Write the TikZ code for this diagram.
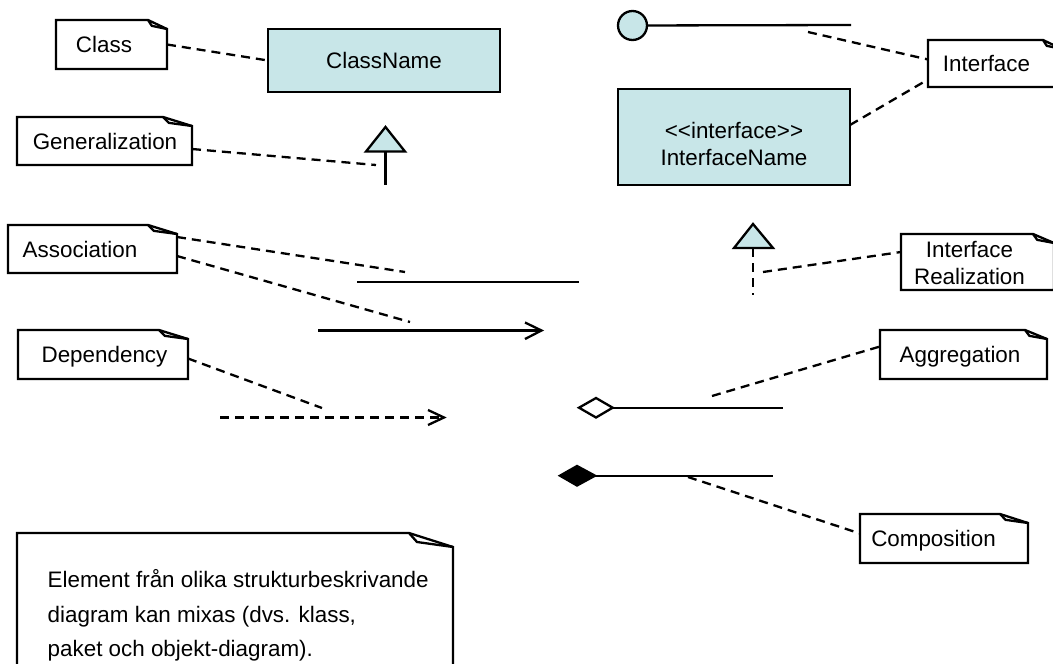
\documentclass[tikz,border=0pt]{standalone}
\usepackage{fontspec}
\setmainfont{Liberation Sans}
\definecolor{umlfill}{RGB}{200,230,232}

\tikzset{
  ln/.style={line width=2.3pt, line join=miter},
  dsh/.style={line width=2.3pt, dash pattern=on 9pt off 6pt},
  notearea/.style={rectangle, inner sep=0pt, outer sep=0pt},
  lbl/.style={inner sep=0pt, font=\fontsize{22.4}{27}\selectfont, align=center},
  lblone/.style={lbl, text height=16pt, text depth=0pt},
  classbox/.style={draw, ln, fill=umlfill, inner sep=0pt, outer sep=0pt},
}

% note with folded corner: name, x1, y1, x2, y2, fold width, fold height, text shift, text
\newcommand\umlnote[9]{%
  \draw[ln, fill=white] (#2,#5) -- (#2,#3) -- ({#4-#6},#3) -- (#4,{#3+#7}) -- (#4,#5) -- cycle;
  \draw[ln] ({#4-#6},#3) -- ({#4-0.8*#6},{#3+0.65*#7}) -- (#4,{#3+#7});
  \node[notearea, minimum width={#4-#2}, minimum height={#5-#3}] (#1) at ({(#2+#4)/2},{(#3+#5)/2}) {};
  \node[lblone] (#1-t) at ([shift={(#8)}]#1.center) {#9};
}

\begin{document}
\begin{tikzpicture}[x=1pt,y=-1pt]
\clip (0,0) rectangle (1053,664);
\fill[white] (0,0) rectangle (1053,664);

% class and interface boxes
\node[classbox, minimum width=232, minimum height=63, font=\fontsize{22.4}{27}\selectfont,
      text height=16pt, text depth=0pt] (cn) at (384,60.5) {ClassName};
\node[classbox, minimum width=232, minimum height=96] (in) at (734,137) {};
\node[lbl] (in-t) at (734,143.5) {<\kern0pt<interface>\kern0pt>\\InterfaceName};

% lollipop interface
\node[circle, draw, ln, fill=umlfill, minimum size=29, inner sep=0pt, outer sep=0pt] (lol) at (632.5,25.5) {};
\coordinate (lolend) at (851,25);
\draw[ln] (lol) -- (lolend);

% generalization
\draw[ln, fill=umlfill] (385.5,127) -- (405,151.5) -- (366,151.5) -- cycle;
\draw[ln] (385.5,151.5) -- (385.5,185);

% interface realization
\draw[ln, fill=umlfill] (753,224) -- (773,248) -- (734,248) -- cycle;
\draw[dsh] (753,248) -- (753,295);

% associations
\draw[ln] (357,282) -- (579,282);
\draw[ln] (318,330.5) -- (541,330.5);
\draw[ln] (525,322.5) -- (541.5,330.5) -- (525,339);

% dependency
\draw[dsh] (220,417.5) -- (443,417.5);
\draw[ln] (428,410) -- (444,417.5) -- (428,425);

% aggregation
\draw[ln, fill=white] (579,407.7) -- (596,398) -- (612.7,407.7) -- (596,417.5) -- cycle;
\draw[ln] (612.7,407.7) -- (782.7,407.7);

% composition
\draw[ln, fill=black] (560,475.7) -- (577,466) -- (595,475.7) -- (577,485.5) -- cycle;
\draw[ln] (595,475.7) -- (773,475.7);

% notes
\umlnote{cls}{56}{20}{167}{69}{19}{9}{-7.5,0}{Class}
\umlnote{gen}{17}{117}{192}{165}{29}{9}{0.5,0}{Generalization}
\umlnote{asc}{8}{225}{177}{273}{29}{9}{-12.5,0}{Association}
\umlnote{dep}{18}{330}{188}{379}{29}{9}{1.5,0}{Dependency}
\umlnote{ifc}{928}{40}{1062}{87}{19}{9}{-8.5,0}{Interface}
\umlnote{real}{901}{234}{1054}{290}{21}{9}{-8,14}{Interface\\Realization}
\umlnote{agg}{880}{330}{1047}{379}{22}{9}{-3.5,0}{Aggregation}
\umlnote{cmp}{860}{514}{1028}{563}{28}{9}{-10.5,0}{Composition}

% large note
\draw[ln, fill=white] (17,700) -- (17,533) -- (409,533) -- (453,547) -- (453,700) -- cycle;
\draw[ln] (409,533) -- (417,542) -- (453,547);
\node[lbl, align=left, anchor=west, font=\fontsize{22.4}{34.5}\selectfont] (bigt) at (47.5,615.5)
  {Element från olika strukturbeskrivande\\diagram kan mixas (dvs. klass,\\paket och objekt-diagram).};

% anchor points on the symbols
\coordinate (gentip) at (376,165);
\coordinate (ascA) at (405,272);
\coordinate (ascB) at (410,322);
\coordinate (depP) at (322,408);
\coordinate (ifcP) at (808,32);
\coordinate (realP) at (763,272);
\coordinate (aggP) at (712,396);
\coordinate (cmpP) at (688,477);

% note connectors
\draw[dsh] (cls.east) -- (cn.west);
\draw[dsh] ([yshift=-8pt]gen.east) -- (gentip);
\draw[dsh] ([yshift=12pt]asc.east) -- (ascA);
\draw[dsh] ([yshift=-7pt]asc.east) -- (ascB);
\draw[dsh] ([yshift=-4pt]dep.east) -- (depP);
\draw[dsh] (ifcP) -- ([yshift=4pt]ifc.west);
\draw[dsh] ([yshift=12pt]in.east) -- ([yshift=-16pt]ifc.west);
\draw[dsh] (realP) -- ([yshift=10pt]real.west);
\draw[dsh] (aggP) -- ([yshift=8pt]agg.west);
\draw[dsh] (cmpP) -- ([yshift=5pt]cmp.west);
\end{tikzpicture}
\end{document}
